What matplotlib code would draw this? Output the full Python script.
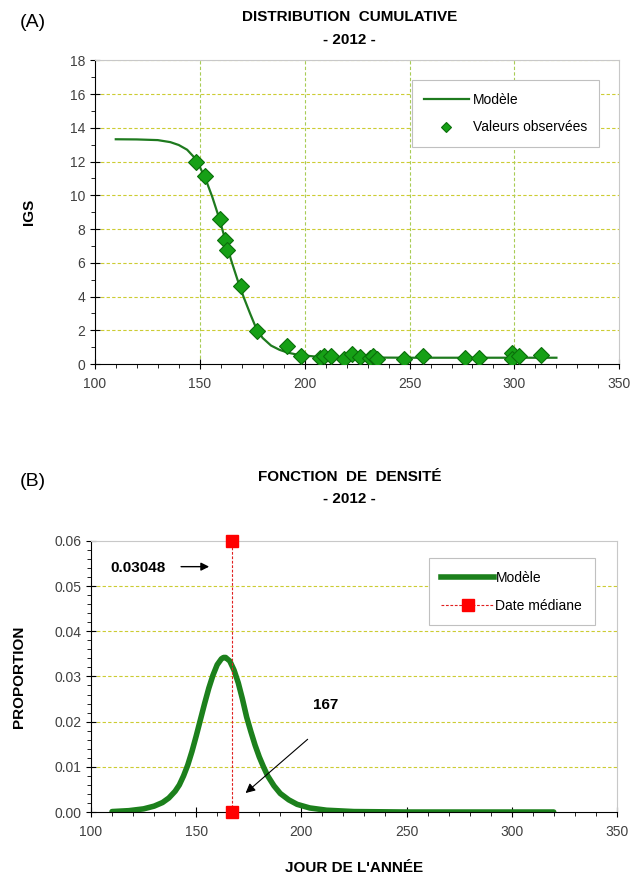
import matplotlib
matplotlib.use("Agg")
import matplotlib.pyplot as plt
from matplotlib.ticker import MultipleLocator, FormatStrFormatter
from matplotlib.lines import Line2D

plt.rcParams['font.family'] = ['Liberation Sans', 'DejaVu Sans']

# (A) observed values
obs_day = [148.1, 152.4, 159.5, 162.0, 163.2, 169.5, 177.5, 191.4, 198.4,
           207.5, 209.4, 212.6, 219.0, 222.6, 226.5, 231.3, 232.6, 234.5,
           247.5, 256.4, 276.5, 283.3, 299.0, 298.8, 302.4, 312.6]
obs_igs = [11.97, 11.14, 8.60, 7.38, 6.78, 4.65, 1.94, 1.09, 0.46,
           0.38, 0.47, 0.51, 0.32, 0.61, 0.44, 0.38, 0.47, 0.28,
           0.32, 0.47, 0.38, 0.34, 0.67, 0.28, 0.47, 0.57]

# (A) model curve
mod_day = [110, 120, 130, 136, 140, 144, 147, 150, 153, 156, 159, 162, 165,
           168, 171, 174, 177, 180, 184, 188, 192, 197, 205, 220, 250, 320]
mod_igs = [13.32, 13.31, 13.27, 13.15, 12.98, 12.70, 12.30, 11.70, 10.90,
           9.90, 8.75, 7.45, 6.15, 5.00, 3.95, 3.00, 2.10, 1.55, 1.10, 0.85,
           0.68, 0.55, 0.45, 0.40, 0.38, 0.38]

# (B) density curve
dens_day = [110, 118, 125, 130, 134, 137, 140, 142, 144, 146, 148, 150, 152,
            154, 156, 158, 160, 162, 163, 164, 166, 168, 170, 172, 174, 176,
            178, 180, 182, 184, 187, 190, 194, 198, 204, 212, 225, 250, 320]
dens_val = [0.0001, 0.0003, 0.0007, 0.0013, 0.0021, 0.0031, 0.0046, 0.0060,
            0.0080, 0.0104, 0.0134, 0.0168, 0.0204, 0.0240, 0.0274, 0.0303,
            0.0326, 0.0339, 0.0342, 0.0342, 0.0334, 0.0314, 0.0286, 0.0250,
            0.0210, 0.0178, 0.0148, 0.0122, 0.0100, 0.0080, 0.0058, 0.0041,
            0.0027, 0.0017, 0.0009, 0.0004, 0.0001, 0.0000, 0.0000]

median_day = 167
median_y = [0.0, 0.06]
peak_label = "0.03048"

green_line = "#1e7a1e"
green_mark = "#16a016"
grid_h = "#cccc33"
grid_v = "#a8cc55"
tick_col = "#404040"


def style_axes(ax):
    for s in ("top", "right"):
        ax.spines[s].set_color("#c8c8c8")
    for s in ("left", "bottom"):
        ax.spines[s].set_color("black")
    ax.tick_params(which="major", direction="inout", length=7, width=0.8,
                   labelsize=10, labelcolor=tick_col, right=False, top=False)
    ax.tick_params(which="minor", direction="out", length=3, width=0.6)
    ax.tick_params(axis="x", which="major", pad=6)
    ax.set_xlim(100, 350)
    ax.xaxis.set_major_locator(MultipleLocator(50))
    ax.xaxis.set_minor_locator(MultipleLocator(10))


fig = plt.figure(figsize=(6.32, 8.86), dpi=100)

# ---------- (A) ----------
ax1 = fig.add_axes([0.150, 0.589, 0.830, 0.343])
style_axes(ax1)
ax1.set_ylim(0, 18)
ax1.yaxis.set_major_locator(MultipleLocator(2))
ax1.yaxis.set_minor_locator(MultipleLocator(1))
for yv in range(2, 19, 2):
    ax1.axhline(yv, color=grid_h, lw=0.8, ls=(0, (3, 2)), zorder=0)
for xv in (150, 200, 250, 300):
    ax1.axvline(xv, color=grid_v, lw=0.8, ls=(0, (3, 2)), zorder=0)
ax1.plot(mod_day, mod_igs, color=green_line, lw=1.6, zorder=2, label="Modèle")
ax1.plot(obs_day, obs_igs, ls="none", marker="D", ms=8, mfc=green_mark,
         mec="#0a6e0a", mew=0.8, zorder=3, label="Valeurs observées")
ax1.set_ylabel("IGS", fontsize=11, fontweight="bold", labelpad=24)
leg1 = ax1.legend(loc="upper right", bbox_to_anchor=(0.962, 0.935), fontsize=10,
                  fancybox=False, edgecolor="#c0c0c0", framealpha=1,
                  handlelength=3.2, borderpad=0.9, labelspacing=1.0,
                  handletextpad=0.3, borderaxespad=0, markerscale=0.65)
leg1.get_frame().set_linewidth(0.8)
fig.text(0.032, 0.975, "(A)", fontsize=14, va="center", ha="left")
fig.text(0.553, 0.981, "DISTRIBUTION  CUMULATIVE", fontsize=11,
         fontweight="bold", ha="center", va="center")
fig.text(0.553, 0.955, "- 2012 -", fontsize=11, fontweight="bold",
         ha="center", va="center")

# ---------- (B) ----------
ax2 = fig.add_axes([0.144, 0.0835, 0.832, 0.306])
style_axes(ax2)
ax2.set_ylim(0, 0.06)
ax2.yaxis.set_major_locator(MultipleLocator(0.01))
ax2.yaxis.set_minor_locator(MultipleLocator(0.002))
ax2.yaxis.set_major_formatter(FormatStrFormatter("%.2f"))
for yv in (0.01, 0.02, 0.03, 0.04, 0.05):
    ax2.axhline(yv, color=grid_h, lw=0.8, ls=(0, (3, 2)), zorder=0)
ax2.plot(dens_day, dens_val, color="#1c801c", lw=4, solid_capstyle="round",
         solid_joinstyle="round", zorder=2, label="Modèle")
ax2.plot([median_day, median_day], median_y, color="#e02020", lw=0.8,
         ls=(0, (2.5, 1.5)), marker="s", ms=8, mfc="#ff0000", mec="#ff0000",
         zorder=4, clip_on=False, label="Date médiane")
ax2.annotate("", xy=(157.5, 0.0543), xytext=(141.5, 0.0543),
             arrowprops=dict(arrowstyle="-|>", color="black", lw=1.0,
                             mutation_scale=12))
ax2.text(122.5, 0.0541, peak_label, fontsize=11, fontweight="bold",
         ha="center", va="center")
ax2.annotate("", xy=(172.5, 0.0038), xytext=(204, 0.0165),
             arrowprops=dict(arrowstyle="-|>", color="black", lw=0.8,
                             mutation_scale=14))
ax2.text(211.5, 0.0237, str(median_day), fontsize=11, fontweight="bold",
         ha="center", va="center")
ax2.set_ylabel("PROPORTION", fontsize=11, fontweight="bold", labelpad=20)
ax2.set_xlabel("JOUR DE L'ANNÉE", fontsize=11, fontweight="bold", labelpad=16)
h_mod = Line2D([], [], color="#1c801c", lw=4)
h_med = Line2D([], [], color="#e02020", lw=0.8, ls=(0, (2.5, 1.5)),
               marker="s", ms=8, mfc="#ff0000", mec="#ff0000")
leg2 = ax2.legend([h_mod, h_med], ["Modèle", "Date médiane"], loc="upper right",
                  bbox_to_anchor=(0.958, 0.936), fontsize=10, fancybox=False,
                  edgecolor="#c0c0c0", framealpha=1, handlelength=3.8,
                  borderpad=0.9, labelspacing=1.0, handletextpad=0.1,
                  borderaxespad=0)
leg2.get_frame().set_linewidth(0.8)
fig.text(0.032, 0.457, "(B)", fontsize=14, va="center", ha="left")
fig.text(0.553, 0.462, "FONCTION  DE  DENSITÉ", fontsize=11,
         fontweight="bold", ha="center", va="center")
fig.text(0.553, 0.437, "- 2012 -", fontsize=11, fontweight="bold",
         ha="center", va="center")

fig.savefig("out.png", dpi=100)
